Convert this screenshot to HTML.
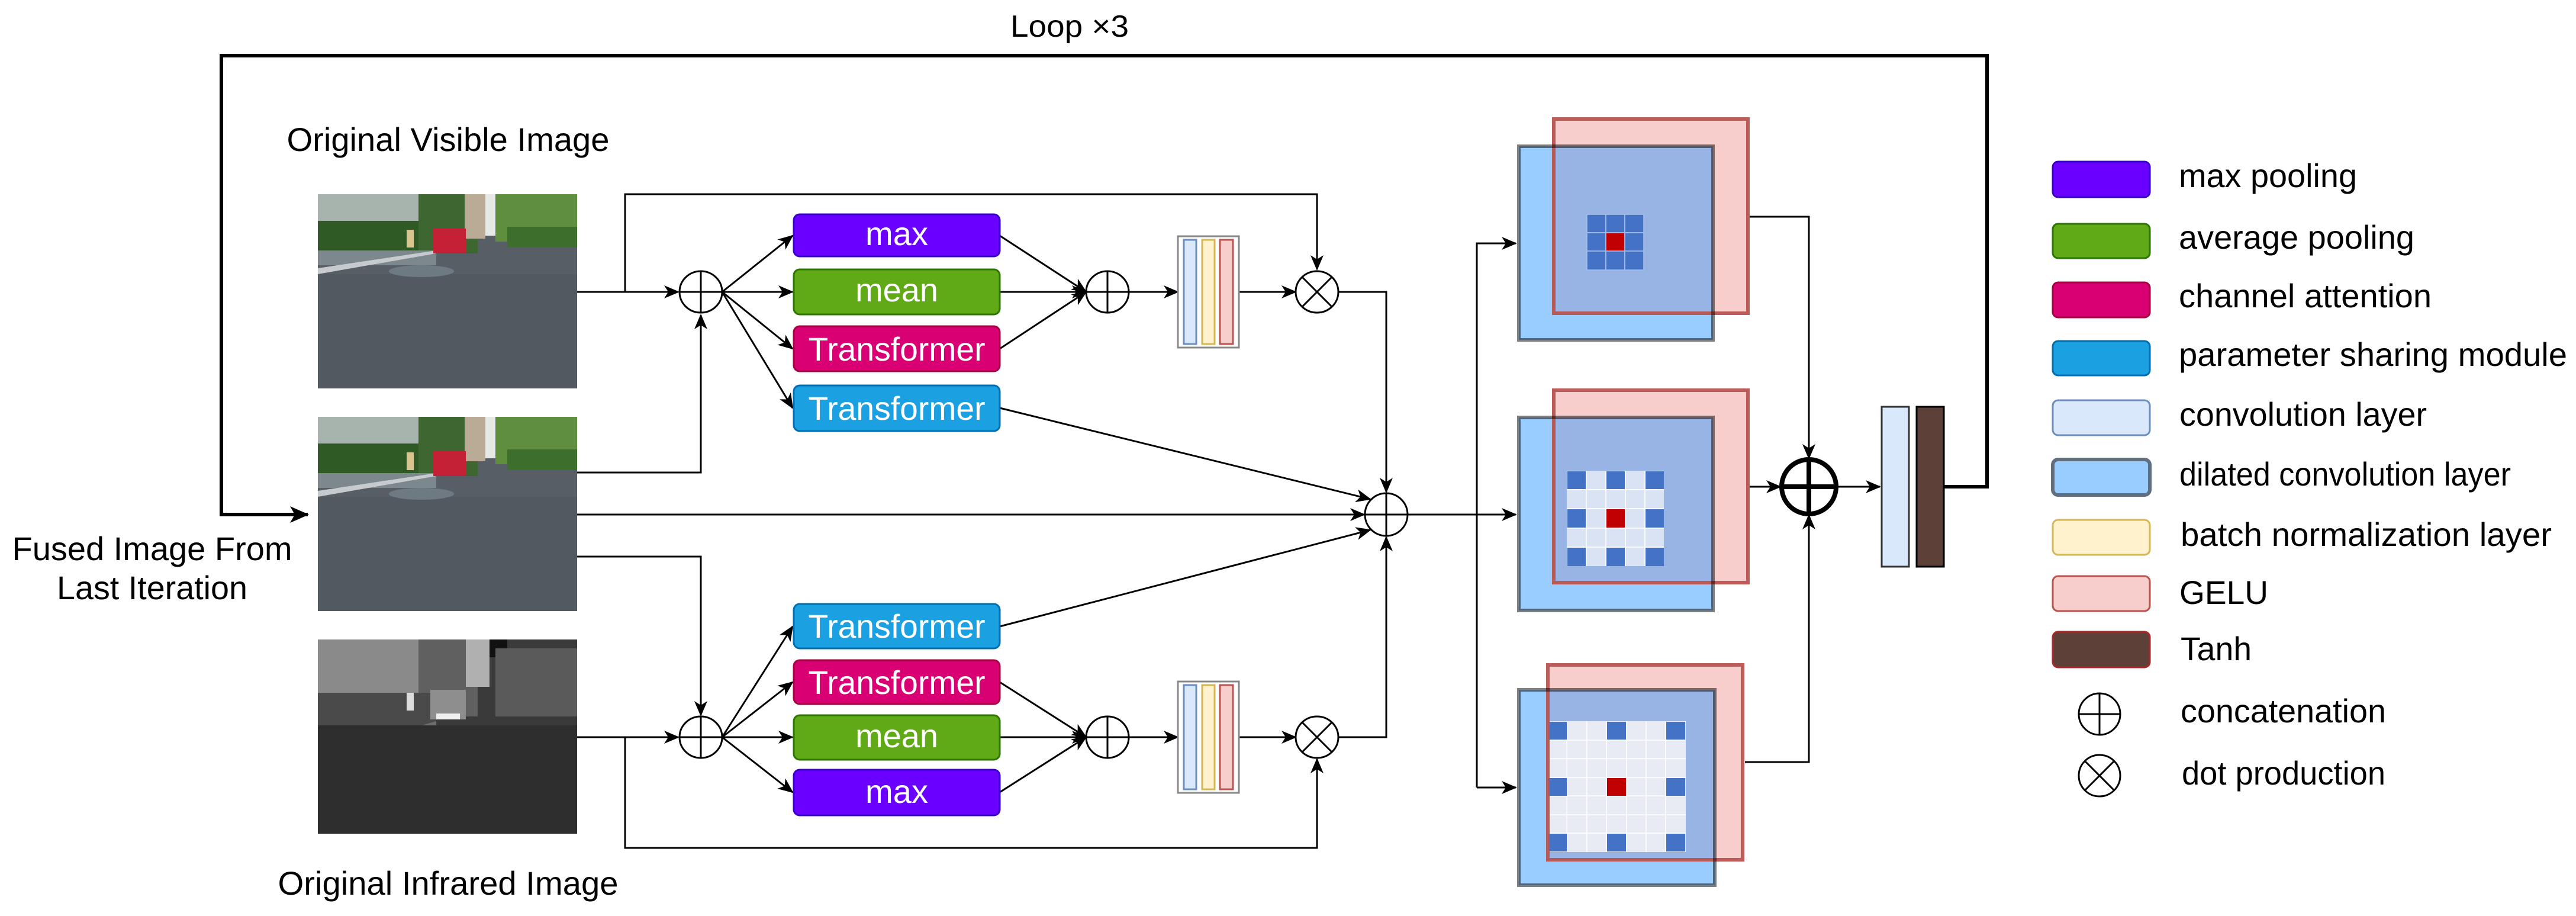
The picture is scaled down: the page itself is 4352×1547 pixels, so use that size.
<!DOCTYPE html>
<html><head><meta charset="utf-8"><style>
html,body{margin:0;padding:0;background:#fff;}
svg{display:block;}
text{font-family:"Liberation Sans",Arial,sans-serif;}
</style></head><body>
<svg width="4352" height="1547" viewBox="0 0 4352 1547" xmlns="http://www.w3.org/2000/svg">
<defs>
<marker id="a" markerUnits="userSpaceOnUse" markerWidth="26" markerHeight="22" refX="24" refY="11" orient="auto">
<path d="M0,0 L26,11 L0,22 L7,11 z" fill="#000"/></marker>
<marker id="b" markerUnits="userSpaceOnUse" markerWidth="32" markerHeight="28" refX="30" refY="14" orient="auto">
<path d="M0,0 L32,14 L0,28 L8,14 z" fill="#000"/></marker>
<g id="vis">
<rect x="0" y="0" width="438" height="328" fill="#575e66"/>
<rect x="0" y="0" width="170" height="60" fill="#a7b3ad"/>
<rect x="0" y="45" width="170" height="52" fill="#2f5a26"/>
<rect x="170" y="0" width="100" height="100" fill="#3e6630"/>
<rect x="248" y="0" width="35" height="75" fill="#b9ab95"/>
<rect x="283" y="0" width="22" height="70" fill="#e6e8e6"/>
<rect x="300" y="0" width="138" height="80" fill="#5f8e3f"/>
<rect x="320" y="55" width="118" height="35" fill="#3d6e2c"/>
<rect x="0" y="95" width="200" height="25" fill="#7d878e"/>
<polygon points="0,125 200,95 200,100 0,135" fill="#c8cbcd"/>
<rect x="195" y="58" width="55" height="42" fill="#c42136"/>
<rect x="150" y="60" width="12" height="30" fill="#d8c590"/>
<rect x="0" y="135" width="438" height="193" fill="#525961"/>
<ellipse cx="175" cy="130" rx="55" ry="10" fill="#6d7a82"/>
</g>
</defs>

<text x="1807" y="62" font-size="52" text-anchor="middle" textLength="200" lengthAdjust="spacingAndGlyphs">Loop ×3</text>
<polyline points="3284,822 3357,822 3357,94 374,94 374,869 520,869" fill="none" stroke="#000" stroke-width="6" marker-end="url(#b)"/>

<text x="757" y="255" font-size="56" text-anchor="middle" textLength="545" lengthAdjust="spacingAndGlyphs">Original Visible Image</text>
<text x="257" y="946" font-size="56" text-anchor="middle" textLength="473" lengthAdjust="spacingAndGlyphs">Fused Image From</text>
<text x="257" y="1012" font-size="56" text-anchor="middle" textLength="322" lengthAdjust="spacingAndGlyphs">Last Iteration</text>
<text x="757" y="1511" font-size="56" text-anchor="middle" textLength="575" lengthAdjust="spacingAndGlyphs">Original Infrared Image</text>

<use href="#vis" x="537" y="328"/>
<use href="#vis" x="537" y="704"/>
<g transform="translate(537,1080)">
<rect width="438" height="328" fill="#3a3a3a"/>
<rect width="170" height="90" fill="#8a8a8a"/>
<rect x="170" width="100" height="130" fill="#606060"/>
<rect x="250" y="0" width="40" height="80" fill="#b0b0b0"/>
<rect x="290" y="0" width="30" height="30" fill="#111"/>
<rect x="300" y="15" width="138" height="115" fill="#5a5a5a"/>
<rect x="0" y="90" width="200" height="55" fill="#4a4a4a"/>
<rect x="190" y="85" width="60" height="50" fill="#8e8e8e"/>
<rect x="200" y="125" width="40" height="10" fill="#eee"/>
<polygon points="0,195 200,138 200,146 0,212" fill="#6e6e6e"/>
<rect x="150" y="90" width="12" height="30" fill="#ddd"/>
<rect y="145" width="438" height="183" fill="#2e2e2e"/>
</g>

<g fill="none" stroke="#000" stroke-width="3">
<polyline points="975,493 1056,493 1056,328 2225,328 2225,455" marker-end="url(#a)"/>
<line x1="975" y1="493" x2="1146" y2="493" marker-end="url(#a)"/>
<polyline points="975,798 1184,798 1184,532" marker-end="url(#a)"/>
<line x1="1220" y1="493" x2="1339" y2="398" marker-end="url(#a)"/>
<line x1="1220" y1="493" x2="1339" y2="493" marker-end="url(#a)"/>
<line x1="1220" y1="493" x2="1339" y2="589" marker-end="url(#a)"/>
<line x1="1220" y1="493" x2="1339" y2="689" marker-end="url(#a)"/>
<line x1="1689" y1="398" x2="1835" y2="493" marker-end="url(#a)"/>
<line x1="1689" y1="493" x2="1835" y2="493" marker-end="url(#a)"/>
<line x1="1689" y1="589" x2="1835" y2="493" marker-end="url(#a)"/>
<line x1="1907" y1="493" x2="1990" y2="493" marker-end="url(#a)"/>
<line x1="2093" y1="493" x2="2189" y2="493" marker-end="url(#a)"/>
<polyline points="2261,493 2342,493 2342,831" marker-end="url(#a)"/>
<line x1="1689" y1="689" x2="2315" y2="843" marker-end="url(#a)"/>
<line x1="975" y1="869" x2="2305" y2="869" marker-end="url(#a)"/>
<polyline points="975,940 1184,940 1184,1208" marker-end="url(#a)"/>
<line x1="975" y1="1245" x2="1146" y2="1245" marker-end="url(#a)"/>
<polyline points="1056,1245 1056,1432 2225,1432 2225,1282" marker-end="url(#a)"/>
<line x1="1220" y1="1245" x2="1339" y2="1058" marker-end="url(#a)"/>
<line x1="1220" y1="1245" x2="1339" y2="1152" marker-end="url(#a)"/>
<line x1="1220" y1="1245" x2="1339" y2="1245" marker-end="url(#a)"/>
<line x1="1220" y1="1245" x2="1339" y2="1338" marker-end="url(#a)"/>
<line x1="1689" y1="1152" x2="1835" y2="1245" marker-end="url(#a)"/>
<line x1="1689" y1="1245" x2="1835" y2="1245" marker-end="url(#a)"/>
<line x1="1689" y1="1338" x2="1835" y2="1245" marker-end="url(#a)"/>
<line x1="1907" y1="1245" x2="1990" y2="1245" marker-end="url(#a)"/>
<line x1="2093" y1="1245" x2="2189" y2="1245" marker-end="url(#a)"/>
<polyline points="2261,1245 2342,1245 2342,907" marker-end="url(#a)"/>
<line x1="1689" y1="1058" x2="2315" y2="895" marker-end="url(#a)"/>
<line x1="2378" y1="869" x2="2561" y2="869" marker-end="url(#a)"/>
<polyline points="2495,1330 2495,411 2561,411" marker-end="url(#a)"/>
<line x1="2495" y1="1330" x2="2561" y2="1330" marker-end="url(#a)"/>
<polyline points="2956,366 3056,366 3056,774" marker-end="url(#a)"/>
<polyline points="2948,1287 3056,1287 3056,870" marker-end="url(#a)"/>
<line x1="2956" y1="822" x2="3008" y2="822" marker-end="url(#a)"/>
<line x1="3103" y1="822" x2="3176" y2="822" marker-end="url(#a)"/>
</g>

<g fill="#fff" stroke="#000" stroke-width="3">
<ellipse cx="1184" cy="493" rx="36" ry="35"/><path d="M1148,493H1220M1184,458V528"/>
<ellipse cx="1871" cy="493" rx="36" ry="35"/><path d="M1835,493H1907M1871,458V528"/>
<ellipse cx="2225" cy="493" rx="36" ry="35"/><path d="M2200,468L2250,518M2250,468L2200,518"/>
<ellipse cx="1184" cy="1245" rx="36" ry="35"/><path d="M1148,1245H1220M1184,1210V1280"/>
<ellipse cx="1871" cy="1245" rx="36" ry="35"/><path d="M1835,1245H1907M1871,1210V1280"/>
<ellipse cx="2225" cy="1245" rx="36" ry="35"/><path d="M2200,1220L2250,1270M2250,1220L2200,1270"/>
<circle cx="2342" cy="869" r="36"/><path d="M2306,869H2378M2342,833V905"/>
<circle cx="3056" cy="822" r="46" stroke-width="8"/><path d="M3010,822H3102M3056,776V868" stroke-width="8"/>
</g>

<g stroke-width="3">
<rect x="1341" y="362" width="348" height="71" rx="10" fill="#6a00ff" stroke="#3700cc"/>
<rect x="1341" y="455" width="348" height="76" rx="10" fill="#60a917" stroke="#2d7600"/>
<rect x="1341" y="551" width="348" height="76" rx="10" fill="#d80073" stroke="#a50040"/>
<rect x="1341" y="651" width="348" height="77" rx="10" fill="#1ba1e2" stroke="#006eaf"/>
<rect x="1341" y="1020" width="348" height="75" rx="10" fill="#1ba1e2" stroke="#006eaf"/>
<rect x="1341" y="1115" width="348" height="74" rx="10" fill="#d80073" stroke="#a50040"/>
<rect x="1341" y="1208" width="348" height="75" rx="10" fill="#60a917" stroke="#2d7600"/>
<rect x="1341" y="1300" width="348" height="77" rx="10" fill="#6a00ff" stroke="#3700cc"/>
</g>
<g fill="#fff" font-size="56" text-anchor="middle">
<text x="1515" y="414" textLength="106" lengthAdjust="spacingAndGlyphs">max</text>
<text x="1515" y="509" textLength="140" lengthAdjust="spacingAndGlyphs">mean</text>
<text x="1515" y="609" textLength="299" lengthAdjust="spacingAndGlyphs">Transformer</text>
<text x="1515" y="709" textLength="299" lengthAdjust="spacingAndGlyphs">Transformer</text>
<text x="1515" y="1077" textLength="299" lengthAdjust="spacingAndGlyphs">Transformer</text>
<text x="1515" y="1172" textLength="299" lengthAdjust="spacingAndGlyphs">Transformer</text>
<text x="1515" y="1262" textLength="140" lengthAdjust="spacingAndGlyphs">mean</text>
<text x="1515" y="1356" textLength="106" lengthAdjust="spacingAndGlyphs">max</text>
</g>

<g stroke-width="3">
<rect x="1990" y="399" width="103" height="188" fill="#fff" stroke="#888"/>
<rect x="2000" y="405" width="21" height="176" fill="#dae8fc" stroke="#6c8ebf"/>
<rect x="2031" y="405" width="21" height="176" fill="#fff2cc" stroke="#d6b656"/>
<rect x="2061" y="405" width="22" height="176" fill="#f8cecc" stroke="#b85450"/>
<rect x="1990" y="1151" width="103" height="188" fill="#fff" stroke="#888"/>
<rect x="2000" y="1157" width="21" height="176" fill="#dae8fc" stroke="#6c8ebf"/>
<rect x="2031" y="1157" width="21" height="176" fill="#fff2cc" stroke="#d6b656"/>
<rect x="2061" y="1157" width="22" height="176" fill="#f8cecc" stroke="#b85450"/>
</g>

<g>
<rect x="2625" y="201" width="328" height="328" fill="#f8cecc"/>
<rect x="2566" y="247" width="328" height="327" fill="#99ccff"/>
<rect x="2625" y="247" width="269" height="282" fill="#97b4e5"/>
<rect x="2625" y="201" width="328" height="328" fill="none" stroke="#b85450" stroke-width="6" opacity="0.95"/>
<rect x="2566" y="247" width="328" height="327" fill="none" stroke="#000" stroke-opacity="0.5" stroke-width="6"/>
</g>
<g stroke="#a9c0ea" stroke-width="1.5">
<rect x="2681" y="362" width="32" height="31" fill="#4472c4"/><rect x="2713" y="362" width="32" height="31" fill="#4472c4"/><rect x="2745" y="362" width="32" height="31" fill="#4472c4"/>
<rect x="2681" y="393" width="32" height="31" fill="#4472c4"/><rect x="2713" y="393" width="32" height="31" fill="#c00000"/><rect x="2745" y="393" width="32" height="31" fill="#4472c4"/>
<rect x="2681" y="424" width="32" height="32" fill="#4472c4"/><rect x="2713" y="424" width="32" height="32" fill="#4472c4"/><rect x="2745" y="424" width="32" height="32" fill="#4472c4"/>
</g>

<g>
<rect x="2625" y="659" width="328" height="325" fill="#f8cecc"/>
<rect x="2566" y="705" width="328" height="326" fill="#99ccff"/>
<rect x="2625" y="705" width="269" height="279" fill="#97b4e5"/>
<rect x="2625" y="659" width="328" height="325" fill="none" stroke="#b85450" stroke-width="6" opacity="0.95"/>
<rect x="2566" y="705" width="328" height="326" fill="none" stroke="#000" stroke-opacity="0.5" stroke-width="6"/>
</g>
<rect x="2647" y="795" width="164" height="161" fill="#dae3f3"/>
<path d="M2680,795V956M2713,795V956M2746,795V956M2779,795V956M2647,827H2811M2647,859H2811M2647,892H2811M2647,924H2811" stroke="#fff" stroke-width="1.5" fill="none"/>
<g fill="#4472c4">
<rect x="2648" y="796" width="31" height="30"/><rect x="2714" y="796" width="31" height="30"/><rect x="2780" y="796" width="31" height="30"/>
<rect x="2648" y="860" width="31" height="31"/><rect x="2780" y="860" width="31" height="31"/>
<rect x="2648" y="925" width="31" height="31"/><rect x="2714" y="925" width="31" height="31"/><rect x="2780" y="925" width="31" height="31"/>
<rect x="2714" y="860" width="31" height="31" fill="#c00000"/>
</g>

<g>
<rect x="2615" y="1123" width="329" height="329" fill="#f8cecc"/>
<rect x="2566" y="1165" width="331" height="330" fill="#99ccff"/>
<rect x="2615" y="1165" width="282" height="287" fill="#97b4e5"/>
<rect x="2614" y="1218" width="234" height="221" fill="#e8ebf4"/>
<path d="M2647,1218V1439M2681,1218V1439M2714,1218V1439M2748,1218V1439M2781,1218V1439M2814,1218V1439M2614,1250H2848M2614,1281H2848M2614,1313H2848M2614,1344H2848M2614,1376H2848M2614,1407H2848" stroke="#fff" stroke-width="1.5"/>
<g fill="#4472c4">
<rect x="2615" y="1219" width="32" height="30"/><rect x="2715" y="1219" width="32" height="30"/><rect x="2815" y="1219" width="32" height="30"/>
<rect x="2615" y="1314" width="32" height="30"/><rect x="2815" y="1314" width="32" height="30"/>
<rect x="2615" y="1408" width="32" height="30"/><rect x="2715" y="1408" width="32" height="30"/><rect x="2815" y="1408" width="32" height="30"/>
<rect x="2715" y="1314" width="32" height="30" fill="#c00000"/>
</g>
<rect x="2615" y="1123" width="329" height="329" fill="none" stroke="#b85450" stroke-width="6" opacity="0.95"/>
<rect x="2566" y="1165" width="331" height="330" fill="none" stroke="#000" stroke-opacity="0.5" stroke-width="6"/>
</g>

<rect x="3179" y="687" width="46" height="270" fill="#dae8fc" stroke="#333" stroke-width="3"/>
<rect x="3238" y="687" width="46" height="270" fill="#5d4037" stroke="#000" stroke-width="3"/>

<g stroke-width="3">
<rect x="3468" y="273" width="164" height="60" rx="9" fill="#6a00ff" stroke="#3700cc"/>
<rect x="3468" y="378" width="164" height="58" rx="9" fill="#60a917" stroke="#2d7600"/>
<rect x="3468" y="477" width="164" height="59" rx="9" fill="#d80073" stroke="#a50040"/>
<rect x="3468" y="576" width="164" height="58" rx="9" fill="#1ba1e2" stroke="#006eaf"/>
<rect x="3468" y="676" width="164" height="59" rx="9" fill="#dae8fc" stroke="#6c8ebf"/>
<rect x="3468" y="776" width="164" height="60" rx="9" fill="#99ccff" stroke="#5f6f80" stroke-width="6"/>
<rect x="3468" y="878" width="164" height="59" rx="9" fill="#fff2cc" stroke="#d6b656"/>
<rect x="3468" y="973" width="164" height="59" rx="9" fill="#f8cecc" stroke="#b85450"/>
<rect x="3468" y="1067" width="164" height="60" rx="9" fill="#5d4037" stroke="#a52a2a"/>
</g>
<g fill="none" stroke="#000" stroke-width="3">
<circle cx="3547" cy="1206" r="35"/><path d="M3512,1206H3582M3547,1171V1241"/>
<circle cx="3547" cy="1310" r="35"/><path d="M3522,1285L3572,1335M3572,1285L3522,1335"/>
</g>
<g font-size="56">
<text x="3681" y="316" textLength="301" lengthAdjust="spacingAndGlyphs">max pooling</text>
<text x="3681" y="420" textLength="398" lengthAdjust="spacingAndGlyphs">average pooling</text>
<text x="3681" y="519" textLength="427" lengthAdjust="spacingAndGlyphs">channel attention</text>
<text x="3681" y="618" textLength="656" lengthAdjust="spacingAndGlyphs">parameter sharing module</text>
<text x="3682" y="719" textLength="418" lengthAdjust="spacingAndGlyphs">convolution layer</text>
<text x="3682" y="820" textLength="560" lengthAdjust="spacingAndGlyphs">dilated convolution layer</text>
<text x="3684" y="922" textLength="627" lengthAdjust="spacingAndGlyphs">batch normalization layer</text>
<text x="3682" y="1020" textLength="150" lengthAdjust="spacingAndGlyphs">GELU</text>
<text x="3684" y="1115" textLength="120" lengthAdjust="spacingAndGlyphs">Tanh</text>
<text x="3684" y="1220" textLength="347" lengthAdjust="spacingAndGlyphs">concatenation</text>
<text x="3686" y="1325" textLength="344" lengthAdjust="spacingAndGlyphs">dot production</text>
</g>
</svg>
</body></html>
